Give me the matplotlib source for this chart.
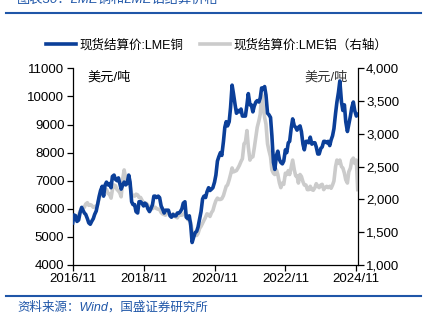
import pandas as pd
import matplotlib
matplotlib.use("Agg")
import matplotlib.pyplot as plt
import matplotlib.dates as mdates
from matplotlib.ticker import FuncFormatter, MultipleLocator

plt.rcParams["font.family"] = ["Liberation Sans", "Noto Sans CJK SC", "DejaVu Sans"]

# semi-monthly settlement prices, USD/t, starting 2016-11
copper = [
    5500, 5780, 5750, 5550,
    5600, 5850, 6050, 5950, 5850, 5800, 5650, 5500, 5450, 5550, 5650, 5800,
    5920, 6150, 6450, 6650, 6800, 6450, 6850, 6950, 6850, 6900, 6750, 7150,
    7200, 7050, 7000, 7100, 6900, 6700, 6850, 6950, 6850, 6900, 7200, 6950,
    6250, 6150, 6150, 5900, 5850, 6250, 6250, 6200, 6100, 6200, 6150, 6000,
    5900, 6000, 6150, 6450, 6450, 6400, 6450, 6400, 6100, 6000, 5850, 5950,
    5950, 5950, 5750, 5700, 5800, 5750, 5750, 5850, 5850, 5900, 6000, 6200,
    6250, 5700, 5650, 5750, 5400, 4800, 5000, 5150, 5200, 5350, 5650, 5900,
    6350, 6450, 6400, 6600, 6750, 6650, 6700, 6750, 6950, 7200, 7700, 7850,
    8000, 7900, 8400, 8900, 9100, 8950, 9100, 9600, 10400, 10100, 9700, 9400,
    9500, 9450, 9550, 9300, 9300, 9300, 9700, 10100, 9700, 9700, 9450, 9650,
    9800, 9850, 9800, 9950, 10300, 10250, 10350, 10050, 9400, 9350, 9250, 8600,
    7650, 7400, 7900, 8050, 7750, 7650, 7600, 7700, 8100, 8000, 8350, 8400,
    8900, 9200, 8950, 8900, 8800, 8900, 8950, 8750, 8300, 8100, 8400, 8400,
    8350, 8550, 8300, 8350, 8350, 8200, 7950, 7950, 8150, 8200, 8400, 8400,
    8350, 8400, 8250, 8450, 8600, 8850, 9400, 9800, 10150, 10550, 9800, 9500,
    9700, 9100, 8750, 9000, 9300, 9600, 9800, 9500, 9300, 9350,
]
aluminium = [
    1720, 1750, 1750, 1710,
    1760, 1820, 1860, 1880, 1880, 1930, 1950, 1910, 1920, 1910, 1880, 1890,
    1900, 1920, 2020, 2080, 2140, 2120, 2130, 2150, 2090, 2080, 2020, 2150,
    2220, 2210, 2150, 2130, 2100, 2040, 2320, 2450, 2320, 2260, 2270, 2210,
    2080, 2060, 2050, 2080, 2070, 2030, 2030, 1990, 1950, 1940, 1940, 1910,
    1860, 1860, 1860, 1880, 1880, 1860, 1850, 1850, 1800, 1780, 1770, 1760,
    1800, 1810, 1750, 1740, 1780, 1750, 1730, 1720, 1770, 1760, 1760, 1770,
    1800, 1740, 1690, 1690, 1650, 1520, 1470, 1460, 1450, 1480, 1560, 1590,
    1640, 1680, 1730, 1780, 1770, 1740, 1800, 1830, 1920, 1980, 2020, 2000,
    2000, 2010, 2060, 2130, 2200, 2220, 2300, 2380, 2480, 2420, 2430, 2440,
    2480, 2520, 2580, 2620, 2850, 2870, 3050, 2800, 2600, 2650, 2650, 2780,
    2950, 3100, 3200, 3300, 3600, 3450, 3250, 3150, 2850, 2750, 2650, 2450,
    2400, 2380, 2450, 2380, 2250, 2180, 2250, 2230, 2400, 2380, 2440, 2380,
    2500, 2600, 2450, 2360, 2360, 2250, 2380, 2350, 2270, 2220, 2220, 2150,
    2150, 2200, 2150, 2140, 2180, 2240, 2200, 2180, 2220, 2230, 2150, 2180,
    2200, 2180, 2200, 2170, 2220, 2280, 2500, 2600, 2550, 2600, 2500, 2480,
    2400, 2300, 2250, 2420, 2480, 2600, 2630, 2550, 2600, 2150,
]
dates = pd.date_range("2016-11-01", periods=len(copper), freq="SMS")
tick_dates = pd.to_datetime(["2016-11-01", "2018-11-01", "2020-11-01",
                             "2022-11-01", "2024-11-01"])

BLUE = "#0b3f99"
GREY = "#cbcbcb"
HEADER = "#1f56a8"

fig = plt.figure(figsize=(4.29, 3.30), dpi=100)
ax = fig.add_axes([0.1695, 0.197, 0.6643, 0.596])
ax2 = ax.twinx()

ax.plot(dates, copper, color=BLUE, lw=2.6, zorder=3, label="现货结算价:LME铜")
ax2.plot(dates, aluminium, color=GREY, lw=2.6, zorder=2, label="现货结算价:LME铝（右轴）")
ax.set_zorder(ax2.get_zorder() + 1)
ax.patch.set_visible(False)

ax.set_ylim(4000, 11000)
ax.yaxis.set_major_locator(MultipleLocator(1000))
ax2.set_ylim(1000, 4000)
ax2.yaxis.set_major_locator(MultipleLocator(500))
ax2.yaxis.set_major_formatter(FuncFormatter(lambda v, p: f"{v:,.0f}"))

ax.set_xlim(dates[0], dates[-1])
ax.set_xticks(tick_dates)
ax.xaxis.set_major_formatter(mdates.DateFormatter("%Y/%m"))

for a in (ax, ax2):
    a.spines["top"].set_visible(False)
    for s in ("left", "right", "bottom"):
        a.spines[s].set_linewidth(0.9)
    a.tick_params(labelsize=9.5, length=4, width=0.9, direction="out", pad=2)
ax.spines["right"].set_visible(False)
ax2.spines["left"].set_visible(False)
ax2.spines["bottom"].set_visible(False)

ax.text(0.05, 0.985, "美元/吨", transform=ax.transAxes, fontsize=9.5,
        va="top", ha="left")
ax2.text(0.965, 0.985, "美元/吨", transform=ax2.transAxes, fontsize=9.5,
         va="top", ha="right", color="#333333")

h1, l1 = ax.get_legend_handles_labels()
h2, l2 = ax2.get_legend_handles_labels()
fig.legend(h1 + h2, l1 + l2, loc="center", bbox_to_anchor=(0.505, 1 - 45 / 330),
           ncol=2, frameon=False, fontsize=9, handlelength=2.4,
           handletextpad=0.3, columnspacing=1.3)

# header / footer decoration
fig.add_artist(plt.Line2D([6 / 429, 421 / 429], [1 - 13 / 330] * 2,
                          color=HEADER, lw=1.5))
fig.add_artist(plt.Line2D([6 / 429, 421 / 429], [1 - 296 / 330] * 2,
                          color=HEADER, lw=1.5))
fig.text(17 / 429, 1 - 3 / 330, "图表30：LME铜和LME铝结算价格", color=HEADER,
         fontsize=9.5, va="baseline", ha="left", style="italic")
fig.text(17 / 429, 1 - 307 / 330, "资料来源：Wind，国盛证券研究所", color=HEADER,
         fontsize=9, va="center", ha="left", style="italic")

fig.savefig("out.png", dpi=100)
